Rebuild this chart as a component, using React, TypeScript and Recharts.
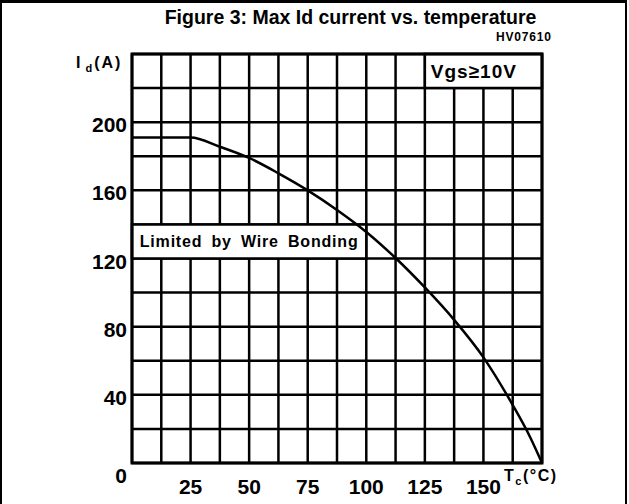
import { LineChart, Line, XAxis, YAxis, CartesianGrid, ReferenceArea } from 'recharts'

// max drain current vs case temperature
const temps = [0, 25, 37.5, 50, 62.5, 75, 87.5, 100, 112.5, 125, 137.5, 150, 162.5, 170, 175]
const currents = [191, 191, 185.6, 179, 170, 160, 148.5, 135.6, 120.3, 103, 84, 62, 34, 15, 0]

const xTicks = [0, 12.5, 25, 37.5, 50, 62.5, 75, 87.5, 100, 112.5, 125, 137.5, 150, 162.5, 175]
const xLabels = [25, 50, 75, 100, 125, 150]
const yTicks = [0, 20, 40, 60, 80, 100, 120, 140, 160, 180, 200, 220, 240]
const yLabels = [0, 40, 80, 120, 160, 200]

const data = temps.map((t, i) => ({ t, id: currents[i] }))

const FONT = '"Liberation Sans", Arial, sans-serif'

const XTick = ({ x, y, payload }: any) => {
  if (!xLabels.includes(payload.value)) return null
  return (
    <text x={x} y={y + 23} textAnchor="middle" fontFamily={FONT} fontWeight="bold" fontSize={21} fill="#000">
      {payload.value}
    </text>
  )
}

const YTick = ({ x, y, payload }: any) => {
  if (!yLabels.includes(payload.value)) return null
  const dy = payload.value === 0 ? 20 : 10
  return (
    <text x={x} y={y + dy} textAnchor="end" fontFamily={FONT} fontWeight="bold" fontSize={21} fill="#000">
      {payload.value}
    </text>
  )
}

export default function App() {
  return (
    <div style={{ position: 'absolute', left: 0, top: 0, width: 629, height: 504, background: '#fff' }}>
      <div
        style={{
          position: 'absolute',
          left: 0,
          top: 0,
          width: 627,
          height: 504,
          boxSizing: 'border-box',
          borderTop: '3px solid #000',
          borderLeft: '2px solid #000',
          borderRight: '2px solid #000',
        }}
      />
      <div
        style={{
          position: 'absolute',
          left: 0,
          width: 629,
          top: 6,
          textAlign: 'center',
          fontFamily: FONT,
          fontWeight: 'bold',
          fontSize: 19.5,
          paddingLeft: 72,
          boxSizing: 'border-box',
        }}
      >
        Figure 3: Max Id current vs. temperature
      </div>
      <div
        style={{
          position: 'absolute',
          left: 496,
          top: 30,
          fontFamily: FONT,
          fontWeight: 'bold',
          fontSize: 12,
          letterSpacing: 0.8,
        }}
      >
        HV07610
      </div>
      <div
        style={{
          position: 'absolute',
          left: 76,
          top: 54,
          fontFamily: FONT,
          fontWeight: 'bold',
          fontSize: 16,
          letterSpacing: 2,
        }}
      >
        I<sub style={{ fontSize: 11, marginLeft: 3 }}>d</sub>(A)
      </div>
      <div
        style={{
          position: 'absolute',
          left: 504,
          top: 467,
          fontFamily: FONT,
          fontWeight: 'bold',
          fontSize: 16,
          letterSpacing: 1.5,
        }}
      >
        T<sub style={{ fontSize: 11 }}>c</sub>(°C)
      </div>
      <div style={{ position: 'absolute', left: 0, top: 0 }}>
        <LineChart width={629} height={504} data={data} margin={{ top: 54, right: 87, bottom: 11, left: 0 }}>
          <CartesianGrid stroke="#000" strokeWidth={2.5} />
          <XAxis
            dataKey="t"
            type="number"
            domain={[0, 175]}
            ticks={xTicks}
            interval={0}
            height={30}
            axisLine={false}
            tickLine={false}
            tick={<XTick />}
          />
          <YAxis
            type="number"
            domain={[0, 240]}
            ticks={yTicks}
            interval={0}
            width={132}
            axisLine={false}
            tickLine={false}
            tickSize={0}
            tickMargin={5}
            tick={<YTick />}
          />
          <ReferenceArea
            x1={125}
            x2={175}
            y1={220}
            y2={240}
            fill="#fff"
            fillOpacity={1}
            stroke="#000"
            strokeWidth={2.5}
            label={{
              value: 'Vgs≥10V',
              position: 'insideLeft',
              offset: 6,
              fontFamily: FONT,
              fontWeight: 'bold',
              fontSize: 19,
              letterSpacing: 1,
              fill: '#000',
            }}
          />
          <ReferenceArea
            x1={0}
            x2={100}
            y1={120}
            y2={140}
            fill="#fff"
            fillOpacity={1}
            stroke="#000"
            strokeWidth={2.5}
            label={{
              value: 'Limited by Wire Bonding',
              position: 'center',
              fontFamily: FONT,
              fontWeight: 'bold',
              fontSize: 16,
              letterSpacing: 0.8,
              wordSpacing: 4,
              fill: '#000',
            }}
          />
          <ReferenceArea x1={0} x2={175} y1={0} y2={240} fill="none" stroke="#000" strokeWidth={3} />
          <Line
            dataKey="id"
            type="monotone"
            stroke="#000"
            strokeWidth={2.5}
            dot={false}
            isAnimationActive={false}
          />
        </LineChart>
      </div>
    </div>
  )
}
